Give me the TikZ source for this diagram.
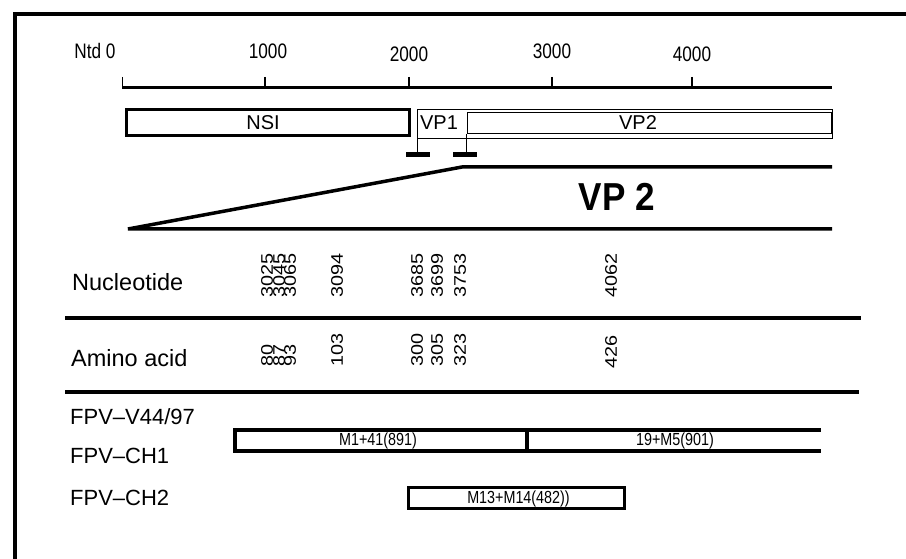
\documentclass[tikz,border=0pt]{standalone}
\usepackage{fontspec}
\usepackage{graphicx}
\setmainfont{Liberation Sans}
\newcommand{\cnd}[1]{\scalebox{0.82}[1]{#1}}
\newcommand{\wid}[1]{\scalebox{1.18}[1]{#1}}
\begin{document}
\begin{tikzpicture}[x=1pt,y=-1pt,
  scalelab/.style={font=\fontsize{21}{22}\selectfont, inner sep=0},
  rowlab/.style={font=\fontsize{23.5}{25}\selectfont, anchor=west, inner sep=0},
  strainlab/.style={font=\fontsize{22}{24}\selectfont, anchor=west, inner sep=0},
  boxlab/.style={font=\fontsize{20}{22}\selectfont, inner sep=0},
  numlab/.style={font=\fontsize{16.8}{17}\selectfont, rotate=90, anchor=west, inner sep=0},
  barlab/.style={font=\fontsize{17.5}{18}\selectfont},
  markbar/.style={fill=black, minimum width=24pt, minimum height=5pt, inner sep=0}]
\useasboundingbox (0,0) rectangle (906,559);
\fill[white] (0,0) rectangle (906,559);
% frame
\draw[line width=4pt] (15,559) -- (15,14) -- (906,14);
% scale
\node[scalelab] (t0) at (95,51) {\cnd{Ntd 0}};
\node[scalelab] (t1) at (268,51) {\cnd{1000}};
\node[scalelab] (t2) at (409,54) {\cnd{2000}};
\node[scalelab] (t3) at (552,51) {\cnd{3000}};
\node[scalelab] (t4) at (692,54) {\cnd{4000}};
\coordinate (s0) at (122,88);
\coordinate (s5) at (832,88);
\draw[line width=3pt] (s0) -- (s5);
\foreach \x in {122.5,265,409,552,692} \draw[line width=1.2pt] (\x,77) -- (\x,88);
% genome boxes
\node[draw, line width=3pt, minimum width=283pt, minimum height=26pt, inner sep=0] (nsi) at (268,122.5) {};
\node[boxlab] at (263,123) {NSI};
\node[draw, line width=1pt, minimum width=414.5pt, minimum height=29pt, inner sep=0] (vp1box) at (624.75,124) {};
\node[boxlab] (vp1lab) at (439,123) {VP1};
\node[draw, line width=1pt, minimum width=364pt, minimum height=21pt, inner sep=0] (vp2box) at (649,123.5) {};
\node[boxlab] (vp2lab) at (638,123) {VP2};
\node[markbar] (bar1) at (418,154.5) {};
\node[markbar] (bar2) at (465,154.5) {};
\draw[line width=1pt] (vp1box.south west) -- (vp1box.south west |- bar1.north);
\draw[line width=1pt] (vp2box.south west) -- (vp2box.south west |- bar2.north);
% wedge
\coordinate (w1) at (128,229);
\coordinate (w2) at (462,167);
\coordinate (w3) at (832,167);
\coordinate (w4) at (832,229);
\draw[line width=3.5pt] (w3) -- (w2) -- (w1) -- (w4);
\node[font=\fontsize{39}{40}\selectfont\bfseries, inner sep=0] (vp2big) at (617,197) {\scalebox{0.9}[1]{VP 2}};
% rows
\node[rowlab] (nuc) at (72,282) {Nucleotide};
\node[rowlab] (aa) at (71,358) {Amino acid};
\draw[line width=4pt] (65,318) -- (861,318);
\draw[line width=4pt] (65,392) -- (859,392);
\foreach \x/\t/\n in {267/3025/a,279/3045/b,290/3065/c,337/3094/d,417/3685/e,437/3699/f,460/3753/g,611/4062/h}
  \node[numlab] (n\n) at (\x,298) {\wid{\t}};
\foreach \x/\t/\n in {267/80/a,279/87/b,290/93/c,337/103/d,417/300/e,437/305/f,460/323/g}
  \node[numlab] (m\n) at (\x,367) {\wid{\t}};
\node[numlab] (mh) at (611,369) {\wid{426}};
% strains
\node[strainlab] (s1) at (70,417) {FPV–V44/97};
\node[strainlab] (s2) at (70,456) {FPV–CH1};
\node[strainlab] (s3) at (70,498) {FPV–CH2};
\node[draw, line width=4pt, minimum width=292pt, minimum height=21pt, inner sep=0] (m1) at (381,440.5) {};
\node[barlab] at (378,441) {\cnd{M1+41(891)}};
\node[minimum width=294pt, minimum height=21pt, inner sep=0] (m5) at (674,440.5) {};
\node[barlab] at (675,441) {\cnd{19+M5(901)}};
\draw[line width=4pt] (m5.north west) -- (m5.north east) (m5.south west) -- (m5.south east);
\node[draw, line width=3pt, minimum width=216pt, minimum height=21pt, inner sep=0] (m13) at (516.5,498) {};
\node[barlab] at (518.5,498.5) {\cnd{M13+M14(482))}};
\end{tikzpicture}
\end{document}
